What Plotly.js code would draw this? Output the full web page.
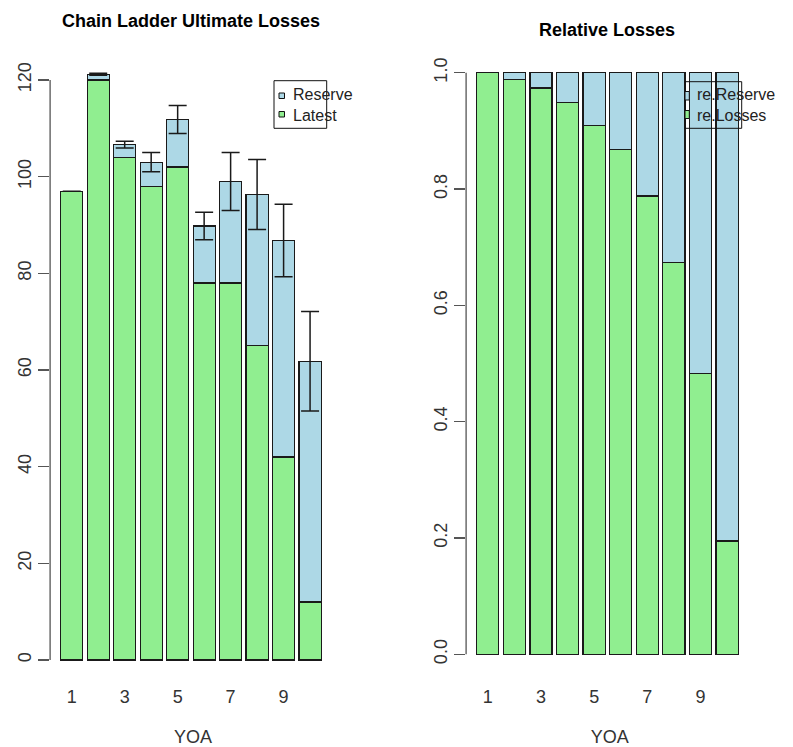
<!DOCTYPE html>
<html>
<head>
<meta charset="utf-8">
<script src="https://cdn.plot.ly/plotly-3.0.1.min.js"></script>
<style>html,body{margin:0;padding:0;background:#fff;}#chart{width:793px;height:747px;}</style>
</head>
<body>
<div id="chart"></div>
<script>
// ---- data ----
var YOA = ["1","2","3","4","5","6","7","8","9","10"];
var latest = [97, 120, 104, 98, 102, 78, 78, 65, 42, 12];
var reserve = [0, 1.2, 2.6, 5.0, 9.8, 11.8, 21.0, 31.3, 44.8, 49.8];
var ultimate = [97, 121.2, 106.6, 103.0, 111.8, 89.8, 99.0, 96.3, 86.8, 61.8];
var ultimateSE = [null, 0.2, 0.7, 2.0, 2.9, 2.85, 6.0, 7.25, 7.5, 10.3];
var reLosses = [1.0, 0.989, 0.974, 0.949, 0.910, 0.868, 0.788, 0.674, 0.483, 0.195];
var reReserve = [0.0, 0.011, 0.026, 0.051, 0.090, 0.132, 0.212, 0.326, 0.517, 0.805];
var xTickLabels = ["1","3","5","7","9"];
var leftTicks = [0, 20, 40, 60, 80, 100, 120];
var rightTicks = [0.0, 0.2, 0.4, 0.6, 0.8, 1.0];
var rightTickText = ["0.0","0.2","0.4","0.6","0.8","1.0"];
var leftLegend = ["Reserve", "Latest"];
var rightLegend = ["re.Reserve", "re.Losses"];

// ---- styling / layout helpers ----
var W = 793, H = 747;
function px(x){ return x / W; }
function py(y){ return 1 - y / H; }
var FONT = "Liberation Sans, Arial, sans-serif";
var GREEN = "#90EE90", BLUE = "#ADD8E6";
var barLine = {color: "#1a1a1a", width: 1.2};

var traces = [
  {type: "bar", x: YOA, y: latest, name: "Latest", xaxis: "x", yaxis: "y",
   marker: {color: GREEN, line: barLine}, showlegend: false, hoverinfo: "skip"},
  {type: "bar", x: YOA, y: reserve, name: "Reserve", xaxis: "x", yaxis: "y",
   marker: {color: BLUE, line: barLine}, showlegend: false, hoverinfo: "skip"},
  {type: "scatter", mode: "markers", x: YOA, y: ultimate, xaxis: "x", yaxis: "y",
   marker: {size: 1, color: "rgba(0,0,0,0)"}, showlegend: false, hoverinfo: "skip",
   error_y: {type: "data", array: ultimateSE, visible: true, color: "#1a1a1a", thickness: 1.5, width: 9}},
  {type: "bar", x: YOA, y: reLosses, name: "re.Losses", xaxis: "x2", yaxis: "y2",
   marker: {color: GREEN, line: barLine}, showlegend: false, hoverinfo: "skip"},
  {type: "bar", x: YOA, y: reReserve, name: "re.Reserve", xaxis: "x2", yaxis: "y2",
   marker: {color: BLUE, line: barLine}, showlegend: false, hoverinfo: "skip"}
];

var tickFont = {family: FONT, size: 18, color: "#333"};
var catRange = [-0.8167, 9.983];

var xCommon = {type: "category", range: catRange, showline: false, showgrid: false, zeroline: false,
  ticks: "", tickmode: "array", tickvals: xTickLabels, ticktext: xTickLabels, tickfont: tickFont,
  title: {text: "YOA", font: {family: FONT, size: 18, color: "#333"}, standoff: 25}, fixedrange: true};
var yCommon = {showline: false, showgrid: false, zeroline: false, ticks: "outside", ticklen: 11,
  tickwidth: 1.3, tickcolor: "#555", tickangle: -90, tickfont: tickFont, fixedrange: true, ticklabelstandoff: 1.5};

var legFont = {family: FONT, size: 16, color: "#222"};

var layout = {
  width: W, height: H, margin: {l: 0, r: 0, t: 0, b: 0},
  paper_bgcolor: "#fff", plot_bgcolor: "rgba(0,0,0,0)",
  barmode: "stack", bargap: 0.1667,
  xaxis: Object.assign({}, xCommon, {domain: [px(50.1), px(336.1)], anchor: "y"}),
  yaxis: Object.assign({}, yCommon, {domain: [py(684), py(50)], range: [-4.966, 126.2],
    tickmode: "array", tickvals: leftTicks, anchor: "x"}),
  xaxis2: Object.assign({}, xCommon, {domain: [px(466.1), px(753.2)], anchor: "y2"}),
  yaxis2: Object.assign({}, yCommon, {domain: [py(684), py(50)], range: [-0.05107, 1.0392],
    tickmode: "array", tickvals: rightTicks, ticktext: rightTickText, anchor: "x2"}),
  shapes: [
    {type: "line", xref: "x domain", yref: "y", x0: 0, x1: 0, y0: leftTicks[0], y1: leftTicks[leftTicks.length-1],
     line: {color: "#555", width: 1.3}},
    {type: "line", xref: "x2 domain", yref: "y2", x0: 0, x1: 0, y0: rightTicks[0], y1: rightTicks[rightTicks.length-1],
     line: {color: "#555", width: 1.3}},
    // left legend box and keys
    {type: "rect", xref: "paper", yref: "paper", x0: px(274), x1: px(326.7), y0: py(128.3), y1: py(80.7),
     line: {color: "#111", width: 1}, layer: "above"},
    {type: "rect", xref: "paper", yref: "paper", x0: px(279), x1: px(284.5), y0: py(98.5), y1: py(93),
     fillcolor: BLUE, line: {color: "#111", width: 1}, layer: "above"},
    {type: "rect", xref: "paper", yref: "paper", x0: px(279), x1: px(284.5), y0: py(117), y1: py(111.5),
     fillcolor: GREEN, line: {color: "#111", width: 1}, layer: "above"},
    // right legend box and keys
    {type: "rect", xref: "paper", yref: "paper", x0: px(685), x1: px(741.7), y0: py(128.3), y1: py(81.7),
     line: {color: "#111", width: 1}, layer: "above"},
    {type: "rect", xref: "paper", yref: "paper", x0: px(685), x1: px(689.3), y0: py(100), y1: py(91.5),
     fillcolor: BLUE, line: {color: "#111", width: 1}, layer: "above"},
    {type: "rect", xref: "paper", yref: "paper", x0: px(685), x1: px(689.3), y0: py(118.5), y1: py(110.5),
     fillcolor: GREEN, line: {color: "#111", width: 1}, layer: "above"}
  ],
  annotations: [
    {text: "<b>Chain Ladder Ultimate Losses</b>", xref: "paper", yref: "paper", x: px(191), y: py(21),
     xanchor: "center", yanchor: "middle", showarrow: false, font: {family: FONT, size: 18, color: "#000"}},
    {text: "<b>Relative Losses</b>", xref: "paper", yref: "paper", x: px(607), y: py(30),
     xanchor: "center", yanchor: "middle", showarrow: false, font: {family: FONT, size: 18, color: "#000"}},
    {text: leftLegend.join("<br>"), xref: "paper", yref: "paper", x: px(290.5), y: py(105.5),
     xanchor: "left", yanchor: "middle", align: "left", showarrow: false, font: legFont},
    {text: rightLegend.join("<br>"), xref: "paper", yref: "paper", x: px(695), y: py(105.5),
     xanchor: "left", yanchor: "middle", align: "left", showarrow: false, font: legFont}
  ]
};

Plotly.newPlot("chart", traces, layout, {displayModeBar: false, staticPlot: true});
</script>
</body>
</html>
